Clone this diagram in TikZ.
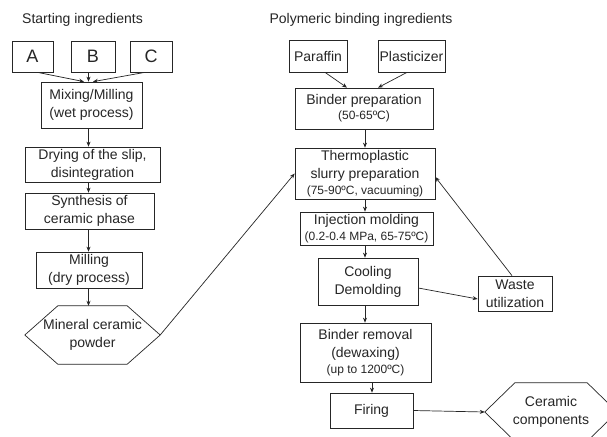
\documentclass[tikz,border=0pt]{standalone}
\usepackage{fontspec}
\setmainfont{Liberation Sans}
\usetikzlibrary{arrows.meta,calc}
\newcommand{\smtxt}[1]{{\fontsize{12}{18}\selectfont #1}}
\begin{document}
\begin{tikzpicture}[x=1pt,y=-1pt,
  box/.style={draw=black!85,text=black!85,line width=0.7pt,align=center,inner sep=0pt,
    font=\fontsize{14}{18}\selectfont},
  bigbox/.style={box,font=\fontsize{18}{20}\selectfont},
  hexnode/.style={draw=none,text=black!85,align=center,inner sep=0pt,
    font=\fontsize{14}{18}\selectfont},
  hexline/.style={draw=black!85,line width=0.7pt},
  arr/.style={draw=black!85,line width=0.7pt,-{Stealth[length=5pt,width=4pt]}},
  title/.style={text=black!85,font=\fontsize{14}{18}\selectfont}]
\useasboundingbox[fill=white] (0,0) rectangle (607,436);

% titles
\node[title] (t1) at (82.5,20) {Starting ingredients};
\node[title] (t2) at (361,20) {Polymeric binding ingredients};

% left column
\node[bigbox,minimum width=41,minimum height=31] (A) at (32.5,56.5) {A};
\node[bigbox,minimum width=44,minimum height=31] (B) at (93,56.5) {B};
\node[bigbox,minimum width=42,minimum height=31] (C) at (151,56.5) {C};
\node[box,minimum width=101,minimum height=46] (mix) at (91.5,105) {Mixing/Milling\\(wet process)};
\node[box,minimum width=135,minimum height=35] (dry) at (92.5,164.5) {Drying of the slip,\\disintegration};
\node[box,minimum width=129,minimum height=36] (syn) at (89.5,211) {Synthesis of\\ceramic phase};
\node[box,minimum width=106,minimum height=36] (mill) at (89,270) {Milling\\(dry process)};
\node[hexnode,minimum width=135,minimum height=58] (min) at (92.5,335) {Mineral ceramic\\powder};
\draw[hexline] (min.west) -- ([xshift=33]min.north west) -- ([xshift=-33]min.north east)
  -- (min.east) -- ([xshift=-33]min.south east) -- ([xshift=33]min.south west) -- cycle;

% right column
\node[box,minimum width=58,minimum height=32] (par) at (318,56) {Paraffin};
\node[box,minimum width=67,minimum height=32] (pla) at (411.5,56) {Plasticizer};
\node[box,minimum width=138,minimum height=41] (bind) at (364,108.5) {Binder preparation\\[-3pt]\smtxt{(50-65ºC)}};
\node[box,minimum width=140,minimum height=51] (thermo) at (365,173.5) {Thermoplastic\\slurry preparation\\[-2pt]\smtxt{(75-90ºC, vacuuming)}};
\node[box,minimum width=133,minimum height=33] (inj) at (366.5,228.5) {Injection molding\\[-2pt]\smtxt{(0.2-0.4 MPa, 65-75ºC)}};
\node[box,minimum width=100,minimum height=47] (cool) at (368,281.5) {Cooling\\Demolding};
\node[box,minimum width=74,minimum height=35] (waste) at (515,293.5) {Waste\\utilization};
\node[box,minimum width=131,minimum height=59] (brem) at (365.5,352.5) {Binder removal\\(dewaxing)\\[-2pt]\smtxt{(up to 1200ºC)}};
\node[box,minimum width=83,minimum height=35] (fir) at (371.5,410.5) {Firing};
\node[hexnode,minimum width=132,minimum height=58] (cer) at (551,412) {Ceramic\\components};
\draw[hexline] (cer.west) -- ([xshift=30]cer.north west) -- ([xshift=-30]cer.north east)
  -- (cer.east) -- ([xshift=-30]cer.south east) -- ([xshift=30]cer.south west) -- cycle;

% column guides
\coordinate (cl) at (88.5,0);
\coordinate (cr) at (365,0);
\coordinate (cf) at (372,0);

% left connectors
\draw[arr] ([xshift=5]A.south) -- ([xshift=-7.5]mix.north);
\draw[arr] (B.south -| cl) -- (mix.north -| cl);
\draw[arr] ([xshift=-6]C.south) -- ([xshift=1.5]mix.north);
\draw[arr] (mix.south -| cl) -- (dry.north -| cl);
\draw[arr] (dry.south -| cl) -- (syn.north -| cl);
\draw[arr] (syn.south -| cl) -- (mill.north -| cl);
\draw[arr] (mill.south -| cl) -- (min.north -| cl);
\draw[arr] (min.east) -- (thermo.west);

% right connectors
\draw[arr] ([xshift=7]par.south) -- ([xshift=-17]bind.north);
\draw[arr] ([xshift=-4.5]pla.south) -- ([xshift=14]bind.north);
\draw[arr] (bind.south -| cr) -- (thermo.north -| cr);
\draw[arr] (thermo.south -| cr) -- (inj.north -| cr);
\draw[arr] (inj.south -| cr) -- (cool.north -| cr);
\draw[arr] (cool.south -| cr) -- (brem.north -| cr);
\draw[arr] (brem.south -| cf) -- (fir.north -| cf);
\draw[arr] ([yshift=-6.5]cool.east) -- ([yshift=-5.5]waste.west);
\draw[arr] ([xshift=-3]waste.north) -- ([yshift=-3.5]thermo.east);
\draw[arr] (fir.east) -- (cer.west);
\end{tikzpicture}
\end{document}
